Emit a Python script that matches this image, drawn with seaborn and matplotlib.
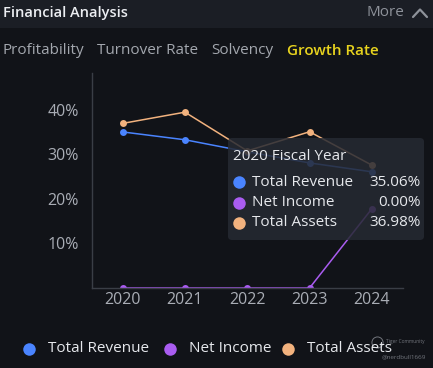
import pandas as pd
import matplotlib.pyplot as plt
import seaborn as sns
from matplotlib.lines import Line2D
from matplotlib.patches import FancyBboxPatch, Rectangle

# Data (growth rate, %)
years = [2020, 2021, 2022, 2023, 2024]
total_revenue = [35.06, 33.3, 30.6, 28.1, 26.1]
net_income = [0.0, 0.0, 0.0, 0.0, 17.8]
total_assets = [36.98, 39.5, 30.8, 35.1, 27.6]
series_names = ["Total Revenue", "Net Income", "Total Assets"]
colors = ["#4a84ff", "#a95cf0", "#f2b27e"]
tabs = ["Profitability", "Turnover Rate", "Solvency", "Growth Rate"]

df = pd.DataFrame({
    "year": years * 3,
    "value": total_revenue + net_income + total_assets,
    "series": [s for s in series_names for _ in years],
})

sns.set_theme(style="dark")
plt.rcParams["font.family"] = ["Open Sans", "DejaVu Sans"]

bg = "#111318"
fig = plt.figure(figsize=(4.33, 3.68), dpi=100, facecolor=bg)
W, H = 433, 368

def fx(px):
    return px / W

def fy(py):
    return 1 - py / H

# header bar
fig.patches.append(Rectangle((0, fy(28)), 1, 28 / H, transform=fig.transFigure,
                             facecolor="#1b1e25", edgecolor="none", zorder=0))
fig.text(fx(3), fy(13), "Financial Analysis", color="#eceef2", fontsize=10.5,
         fontweight="semibold", va="center", ha="left")
fig.text(fx(367), fy(13), "More", color="#8e929a", fontsize=11, va="center", ha="left")
fig.add_artist(Line2D([fx(413), fx(420), fx(427)], [fy(17), fy(9.5), fy(17)],
                      color="#8e929a", linewidth=1.6, transform=fig.transFigure))

# tabs
tab_x = [3, 97, 211, 287]
for i, (t, x) in enumerate(zip(tabs, tab_x)):
    fig.text(fx(x), fy(51), t, color="#e8d31e" if i == 3 else "#a3a7ae",
             fontsize=11, va="center", ha="left",
             fontweight="semibold" if i == 3 else "normal")

ax = fig.add_axes([fx(91.5), fy(288), fx(403) - fx(91.5), (288 - 73) / H])
ax.set_facecolor(bg)
sns.lineplot(data=df, x="year", y="value", hue="series", hue_order=series_names,
             palette=colors, marker="o", markersize=5, markeredgewidth=0,
             linewidth=1.1, ax=ax, legend=False)
ax.set_xlim(2019.5, 2024.5)
ax.set_ylim(0, 48.3)
ax.set_xticks(years)
ax.set_xticklabels([str(y) for y in years])
ax.set_yticks([10, 20, 30, 40])
ax.set_yticklabels(["10%", "20%", "30%", "40%"])
ax.tick_params(colors="#a9adb5", labelsize=11.5, length=0, pad=3)
ax.tick_params(axis="y", pad=9)
ax.set_xlabel("")
ax.set_ylabel("")
ax.grid(False)
for side in ["top", "right"]:
    ax.spines[side].set_visible(False)
for side in ["left", "bottom"]:
    ax.spines[side].set_visible(True)
    ax.spines[side].set_color("#3a3e46")
    ax.spines[side].set_linewidth(1)

# tooltip
fig.patches.append(FancyBboxPatch((fx(228), fy(240)), fx(424) - fx(228), (240 - 138) / H,
                                  boxstyle="round,pad=0,rounding_size=0.01",
                                  transform=fig.transFigure, facecolor="#262a33",
                                  edgecolor="none", alpha=0.85, zorder=5))
fig.text(fx(233), fy(156), "2020 Fiscal Year", color="#e6e8ec", fontsize=11,
         va="center", ha="left", zorder=6)
rows = [total_revenue[0], net_income[0], total_assets[0]]
for i, (name, c, v) in enumerate(zip(series_names, colors, rows)):
    y = 182 + i * 20.5
    fig.add_artist(Line2D([fx(239)], [fy(y)], marker="o", markersize=9, color=c,
                          markeredgewidth=0, transform=fig.transFigure, zorder=6))
    fig.text(fx(252), fy(y), name, color="#e6e8ec", fontsize=11, va="center",
             ha="left", zorder=6)
    fig.text(fx(421), fy(y), f"{v:.2f}%", color="#e6e8ec", fontsize=11,
             va="center", ha="right", zorder=6)

# legend
leg_x = [29, 170, 288]
for name, c, x in zip(series_names, colors, leg_x):
    fig.add_artist(Line2D([fx(x)], [fy(349)], marker="o", markersize=9, color=c,
                          markeredgewidth=0, transform=fig.transFigure))
    fig.text(fx(x + 19), fy(349), name, color="#e6e8ec", fontsize=11,
             va="center", ha="left")

# watermark
fig.text(fx(386), fy(342), "Tiger Community", color="#8a8e96", fontsize=3.5,
         va="center", ha="left", alpha=0.8)
fig.text(fx(382), fy(357), "@nerdbull1669", color="#8a8e96", fontsize=4.5,
         va="center", ha="left", alpha=0.8)
fig.add_artist(Line2D([fx(377)], [fy(342)], marker="o", markersize=8, color="none",
                      markeredgecolor="#8a8e96", markeredgewidth=0.7,
                      transform=fig.transFigure, alpha=0.8))

fig.savefig("out.png", dpi=100, facecolor=bg)
